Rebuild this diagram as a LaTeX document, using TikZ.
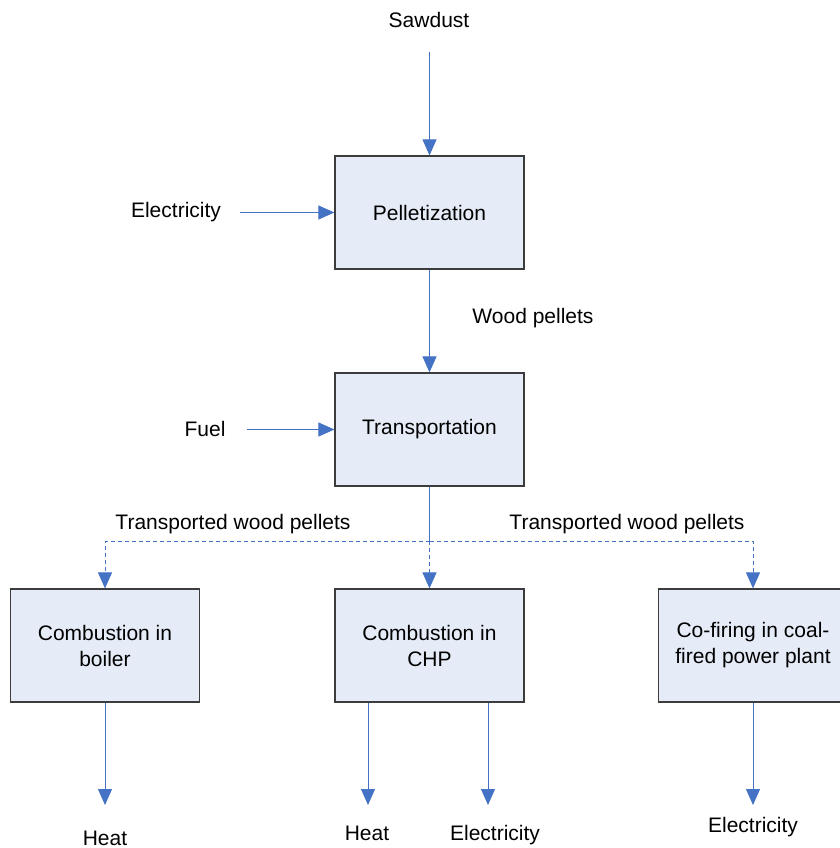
\documentclass[tikz,border=0pt]{standalone}
\usepackage{fontspec}
\setmainfont{Liberation Sans}
\usetikzlibrary{arrows.meta}
\definecolor{flowblue}{RGB}{68,114,196}
\definecolor{boxfill}{RGB}{230,236,247}
\definecolor{boxline}{RGB}{60,60,60}
\tikzset{
    lbl/.style={font=\fontsize{21}{26}\selectfont},
    unit/.style={lbl, draw=boxline, line width=1.2pt, fill=boxfill,
        minimum width=189pt, minimum height=113pt, align=center},
    flow/.style={draw=flowblue, line width=1pt,
        -{Triangle[length=16pt,width=14pt]}},
    split/.style={flow, dash pattern=on 4pt off 3pt}
}
\begin{document}
\begin{tikzpicture}[x=1pt,y=-1pt]
        \useasboundingbox (0,0) rectangle (839,848);
        %% top chain
        \node[lbl] (sawdust) at (429,20) {Sawdust};
        \coordinate (sawend) at (429.5,52);
        \node[unit] (pellet) at (429.5,212.5) {Pelletization};
        \node[lbl] (elec) at (176,212) {Electricity};
        \coordinate (elecend) at (240,212.5);
        \draw[flow] (sawend) -- (pellet.north);
        \draw[flow] (elecend) -- (pellet.west);
        %% transport
        \node[unit] (trans) at (429.5,429.5) {Transportation};
        \node[lbl] (pellets) at (533,318) {Wood pellets};
        \node[lbl] (fuel) at (205,429) {Fuel};
        \coordinate (fuelend) at (247,429.5);
        \draw[flow] (pellet.south) -- (trans.north);
        \draw[flow] (fuelend) -- (trans.west);
        %% end uses
        \node[unit] (boiler) at (105,645.5) {Combustion in\\boiler};
        \node[unit] (chp) at (429.5,645.5) {Combustion in\\CHP};
        \node[unit] (cofire) at (753,645.5) {Co-firing in coal-\\fired power plant};
        \coordinate (split) at (429.5,541);
        \draw[draw=flowblue, line width=1pt] (trans.south) -- (split);
        \draw[split] (split) -| (boiler.north);
        \draw[split] (split) -- (chp.north);
        \draw[split] (split) -| (cofire.north);
        \node[lbl] (tpa) at (233,524) {Transported wood pellets};
        \node[lbl] (tpb) at (627,524) {Transported wood pellets};
        %% products
        \coordinate (boilerheat) at (105,805);
        \coordinate (chpheat) at (368,805);
        \coordinate (chpelec) at (488,805);
        \coordinate (cofireelec) at (753,805);
        \draw[flow] (boiler.south) -- (boilerheat);
        \draw[flow] (chpheat |- chp.south) -- (chpheat);
        \draw[flow] (chpelec |- chp.south) -- (chpelec);
        \draw[flow] (cofire.south) -- (cofireelec);
        \node[lbl] (heata) at (105,838) {Heat};
        \node[lbl] (heatb) at (367,833) {Heat};
        \node[lbl] (eleca) at (495,835) {Electricity};
        \node[lbl] (elecb) at (753,827) {Electricity};
\end{tikzpicture}
\end{document}
